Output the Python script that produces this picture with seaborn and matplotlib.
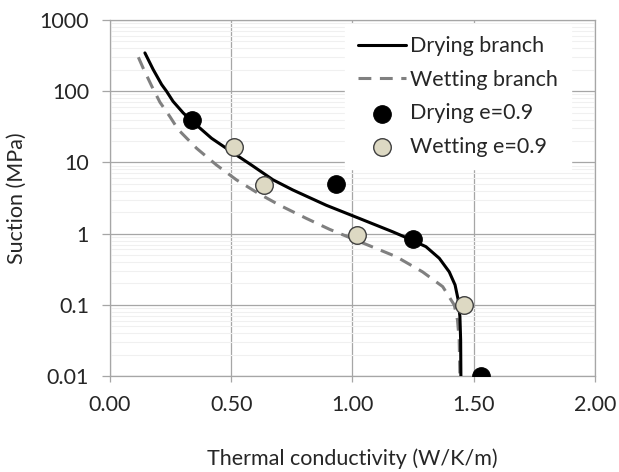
import numpy as np
import seaborn as sns
import matplotlib.pyplot as plt
from matplotlib.ticker import FixedLocator, FixedFormatter, LogLocator, NullFormatter

# drying branch curve
dry_x = [0.144, 0.178, 0.213, 0.233, 0.260, 0.302, 0.336, 0.419, 0.501, 0.583,
         0.672, 0.754, 0.892, 1.029, 1.166, 1.228, 1.303, 1.358, 1.399, 1.423,
         1.436, 1.443, 1.446, 1.447]
dry_y = [345, 202, 124, 100, 72, 49.5, 38.5, 21.8, 14.1, 9.2,
         5.7, 4.1, 2.5, 1.63, 1.06, 0.86, 0.655, 0.45, 0.29, 0.19,
         0.117, 0.068, 0.032, 0.01]

# wetting branch curve
wet_x = [0.117, 0.137, 0.172, 0.206, 0.247, 0.281, 0.357, 0.439, 0.521, 0.610,
         0.700, 0.809, 0.905, 1.097, 1.18, 1.289, 1.372, 1.42, 1.433, 1.44, 1.443]
wet_y = [300, 210, 118, 70, 44, 29, 15.8, 9.2, 5.7, 3.7,
         2.5, 1.64, 1.15, 0.62, 0.475, 0.29, 0.18, 0.099, 0.061, 0.032, 0.01]

# measured points, e = 0.9
dry_pts_x = [0.338, 0.930, 1.249, 1.530]
dry_pts_y = [39, 4.9, 0.85, 0.01]
wet_pts_x = [0.510, 0.636, 1.017, 1.461]
wet_pts_y = [16.5, 4.8, 0.97, 0.099]

x_ticks = [0.0, 0.5, 1.0, 1.5, 2.0]
x_labels = ['0.00', '0.50', '1.00', '1.50', '2.00']
y_ticks = [0.01, 0.1, 1, 10, 100, 1000]
y_labels = ['0.01', '0.1', '1', '10', '100', '1000']

sns.set_style('white')
plt.rcParams['font.family'] = ['Lato', 'DejaVu Sans']

fig = plt.figure(figsize=(6.19, 4.72), dpi=100)
ax = fig.add_axes([0.1777, 0.2034, 0.7835, 0.7542])

grid_c = '#a6a6a6'
fs = 15.5

sns.lineplot(x=dry_x, y=dry_y, ax=ax, color='black', linewidth=2.2,
             sort=False, estimator=None, label='Drying branch', zorder=3)
sns.lineplot(x=wet_x, y=wet_y, ax=ax, color='#808080', linewidth=2.2,
             sort=False, estimator=None, label='Wetting branch', zorder=2)
ax.lines[-1].set_linestyle((0, (4.2, 2.8)))

sns.scatterplot(x=dry_pts_x, y=dry_pts_y, ax=ax, s=160, color='black',
                edgecolor='black', linewidth=0.8, label='Drying e=0.9', zorder=4)
sns.scatterplot(x=wet_pts_x, y=wet_pts_y, ax=ax, s=160, color='#ddd9c3',
                edgecolor='#3f3f3f', linewidth=1.0, label='Wetting e=0.9', zorder=4)

ax.set_yscale('log')
ax.set_xlim(0, 2)
ax.set_ylim(0.01, 1000)

ax.xaxis.set_major_locator(FixedLocator(x_ticks))
ax.xaxis.set_major_formatter(FixedFormatter(x_labels))
ax.yaxis.set_major_locator(FixedLocator(y_ticks))
ax.yaxis.set_major_formatter(FixedFormatter(y_labels))
ax.yaxis.set_minor_locator(LogLocator(base=10, subs=np.arange(2, 10)))
ax.yaxis.set_minor_formatter(NullFormatter())

ax.grid(True, which='major', color=grid_c, linewidth=0.9, zorder=0)
ax.grid(True, which='minor', axis='y', color='#f0f0f0', linewidth=0.8, zorder=0)
ax.set_axisbelow(True)

for s in ax.spines.values():
    s.set_color(grid_c)
    s.set_linewidth(0.9)

ax.tick_params(axis='y', which='major', direction='out', length=6, width=0.9,
               color=grid_c, pad=9, labelsize=fs, left=True)
ax.tick_params(axis='x', which='major', direction='out', length=4.5, width=0.9,
               color=grid_c, pad=9, labelsize=fs, bottom=True)
ax.tick_params(axis='y', which='minor', length=0)

ax.set_xlabel('Thermal conductivity (W/K/m)', fontsize=fs, labelpad=24)
ax.set_ylabel('Suction (MPa)', fontsize=fs, labelpad=9)

leg = ax.legend(loc='upper right', bbox_to_anchor=(0.95, 0.99), fontsize=fs,
                frameon=True, fancybox=False, framealpha=1, edgecolor='white',
                handlelength=2.2, handletextpad=0.2, labelspacing=0.62,
                borderpad=0.6, borderaxespad=0)

fig.savefig('out.png', dpi=100)
